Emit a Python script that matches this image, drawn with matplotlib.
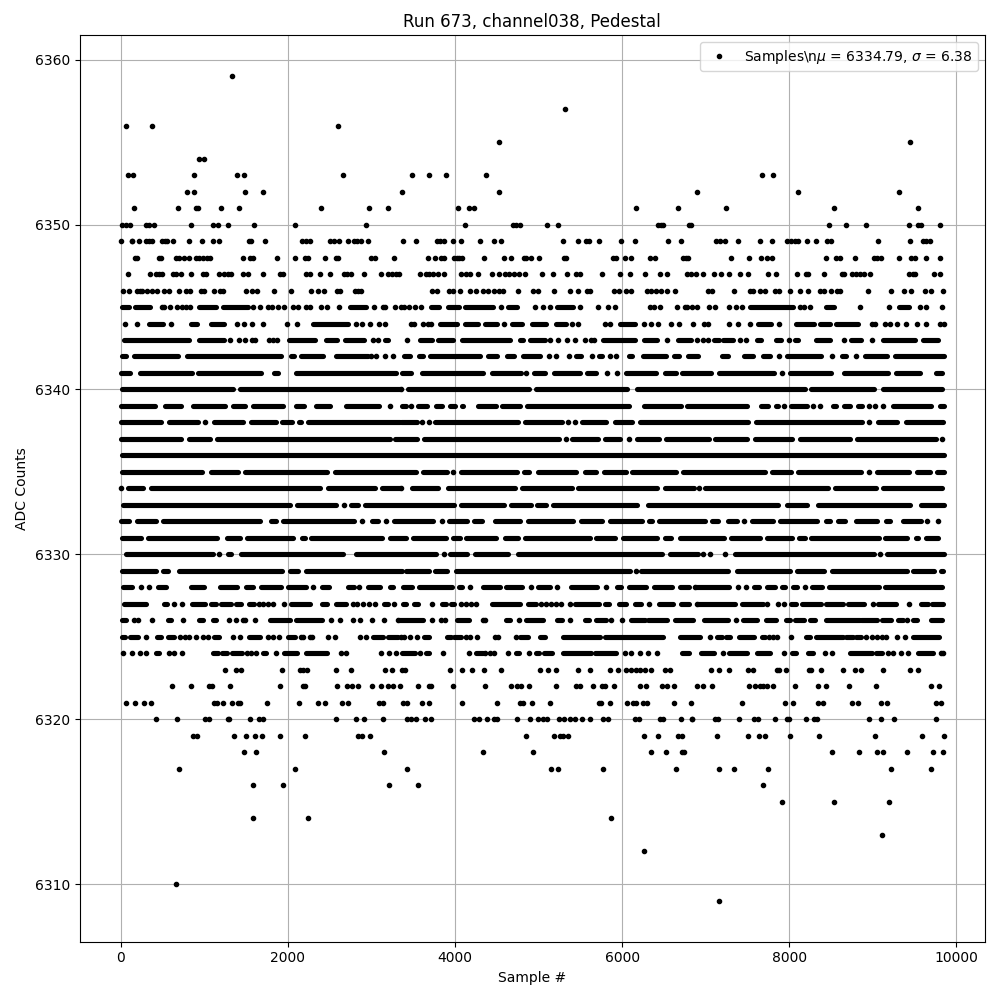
import matplotlib
matplotlib.use("Agg")
import matplotlib.pyplot as plt

## values, one list per ADC level
## a plain number is one sample, a (start, end) pair is a stretch of samples too dense to tell apart
row_6359 = [1328]
row_6357 = [5316]
row_6356 = [68, 380, 2600]
row_6355 = [4524, 9448]
row_6354 = [932, 992]
row_6353 = [92, 152, 872, 1388, 1472, 2660, 3492, 3684, 3888, 4368, 7672, 7804]
row_6352 = [788, 872, 1484, 1700, 3372, 4524, 6892, 8104, 9316]
row_6351 = [164, 692, 900, 924, 1196, 1412, 2396, 2972, 3200, 4032, 4164, 4224, 6168, 6672, 7240, 8536, 9544]
row_6350 = [20, 68, 116, 300, 340, 400, 836, 1100, 1160, 1280, 1592, 2084, 2936, 4116, 4692, 4732, 4776, 5100,
            5232, 6432, 6464, 6492, 6804, 6820, 8476, 8680, 8920, 9436, 9544, 9572, 9808]
row_6349 = [8, 130, 140, 224, 308, 340, 372, 500, 528, 560, 632, 812, 968, 1100, 1172, 1532, 1564, 1724, 2168, 2220,
            2268, 2508, 2548, 2612, 2720, 2788, 2828, 2880, 2960, 3384, 3528, 3780, 3820, 3872, 3972, 4068, 4296,
            4464, 4548, 5292, 5472, 5572, 5600, 5724, 5988, 6156, 6552, 6708, 7124, 7172, 7232, 7384, 7648, 7792,
            7972, 8024, 8064, 8104, 8212, 8320, 8452, 8504, 9064, 9448, 9604, 9636, 9688]
row_6348 = [172, 196, 460, 488, 668, 700, 756, 812, 900, 940, 988, 1028, 1068, 1460, 1552, 1588, 1868, 2084, 2200,
            2236, 2444, 2572, 2604, 2996, 3048, 3272, 3672, 3756, 3828, 3868, 3984, 4020, 4052, 4084, 4344, 4584,
            4668, 4824, 4852, 4908, 5004, 5300, 5324, 5892, 5932, 6036, 6108, 6332, 6392, 6732, 6760, 6792, 7300,
            7516, 7656, 7728, 7796, 8440, 8564, 8612, 8788, 9016, 9052, 9100, 9316, 9460, 9504, 9640, 9808]
row_6347 = [92, 356, 428, 460, 500, 628, 668, 720, 836, 980, 1020, 1172, 1232, 1280, 1320, 1460, 1520, 1700, 1904,
            1940, 2220, 2260, 2384, 2504, 2672, 2708, 2756, 2912, 3116, 3200, 3248, 3300, 3332, 3576, 3652, 3692,
            3732, 3792, 3864, 4072, 4132, 4180, 4276, 4440, 4524, 4596, 4652, 4712, 4764, 4844, 5040, 5172, 5340,
            5452, 5492, 5760, 5976, 6096, 6276, 6456, 6540, 6780, 6820, 6880, 6964, 7096, 7180, 7276, 7408, 7504,
            7744, 7840, 8092, 8204, 8228, 8416, 8632, 8660, 8756, 8804, 8848, 8896, 8968, 9436, 9476, 9504, 9736, 9808]
row_6346 = [32, 104, 200, 228, 260, 320, 380, 440, 524, 584, 704, 776, 828, 960, 1000, 1112, 1188, 1220, 1496, 1568,
            1628, 1832, 2036, 2276, 2360, 2432, 2588, 2628, 2804, 2840, 2872, 3720, 3780, 3924, 3972, 4056, 4176,
            4248, 4332, 4392, 4464, 4532, 4580, 4752, 4932, 4992, 5184, 5372, 5472, 5580, 5620, 5904, 5964, 6048,
            6104, 6300, 6348, 6404, 6468, 6540, 6636, 7024, 7076, 7336, 7536, 7564, 7648, 7708, 7828, 7876, 8004,
            8124, 8224, 8368, 8420, 8504, 8572, 8608, 8944, 9220, 9376, 9460, 9628, 9700, 9844]
row_6345 = [(20, 100), (172, 348), 500, 524, 596, 680, 732, 780, 828, (940, 1140), (1228, 1520), 1580, 1664, 1760, 1812,
            1880, 1960, 2060, 2124, 2220, 2260, 2392, 2468, 2612, (2748, 2940), 3028, 3140, 3160, 3284, 3352, 3392, 3452,
            3524, 3592, (3712, 3804), (3920, 4044), (4124, 4452), 4552, (4632, 4740), 4956, 5052, 5136, (5224, 5412), 5496,
            5712, 5832, 5916, 6332, 6380, 6456, 6652, 6752, 6780, 6836, 6892, 7036, 7108, 7276, 7364, 7432, (7532, 8044),
            8132, 8176, 8248, (8436, 8536), 8848, 9196, (9308, 9436), 9568, 9640, 9832]
row_6344 = [56, 200, (340, 508), 608, (840, 908), (1080, 1240), 1388, 1472, 1568, 1700, 1988, 2116, (2300, 2720), 2816, 2888,
            2988, 3092, 3160, 3472, 3512, 3612, 3672, 3712, (3820, 4020), (4124, 4272), (4364, 4500), 4584, (4680, 4804),
            (4924, 5092), (5212, 5332), 5404, 5472, 5800, 5856, (5976, 6156), 6264, 6340, 6424, 6580, 6684, 6852, 6984, 7024,
            7284, 7384, 7536, (7624, 7784), 7876, (8076, 8296), (8372, 8492), (8564, 8824), 8992, 9024, 9148, 9204, 9284,
            9400, 9532, 9640, 9808, 9850]
row_6343 = [(40, 820), (940, 1240), 1308, 1420, 1484, 1572, 1612, 1772, 1820, 1872, (2020, 2320), (2460, 2588), (2680, 2912),
            3020, 3080, (3160, 3204), 3428, (3580, 3720), (3792, 3972), (4084, 4660), (4780, 4820), (4900, 5072), 5132, 5232,
            5340, 5440, 5560, 5632, 5660, (5772, 6152), (6264, 6412), 6540, (6664, 6820), 6892, 6964, 7024, (7104, 7156),
            (7204, 7324), 7416, 7480, (7612, 7664), (7836, 7904), 7996, (8064, 8104), (8324, 8484), 8656, (8744, 8864), 8992,
            (9124, 9504), (9604, 9784)]
row_6342 = [(12, 68), (160, 688), (792, 1916), (2040, 2076), (2160, 2420), (2572, 2964), 3000, 3052, 3160, 3260, (3396, 3468),
            (3564, 3620), (3704, 4300), (4396, 4500), (4628, 4708), (4816, 5012), 5124, 5212, 5360, (5452, 5508), 5644,
            (5724, 5760), 5852, 5932, (6084, 6120), (6252, 6520), (6616, 6680), (6784, 6912), (7196, 7272), (7464, 7572),
            (7688, 7772), 7872, (7976, 8384), 8512, (8636, 8680), 8804, (8904, 9172), (9264, 9852)]
row_6341 = [(0, 116), (232, 848), (924, 1676), (1836, 1880), (2100, 3296), (3364, 3480), (3604, 4340), (4444, 4788), 4856,
            (4948, 5072), (5188, 5500), (5584, 5688), 5824, 5940, (6052, 6400), (6508, 6640), (6716, 7060), (7156, 7812), 7916,
            (8004, 8504), (8652, 9184), (9276, 9564), (9756, 9832)]
row_6340 = [(12, 1348), (1428, 3340), 3360, (3444, 4880), (4964, 6060), (6176, 8184), (8264, 9012), (9116, 9832)]
row_6339 = [(0, 416), (532, 728), (864, 1248), (1344, 1488), (1584, 1940), (2100, 2188), (2340, 2500), (2692, 3088), 3228,
            (3364, 3420), 3480, (3556, 3668), (3772, 3840), (3940, 4000), (4088, 4100), (4276, 4488), (4564, 4780),
            (4864, 6080), (6264, 6700), (6776, 7492), (7664, 7744), (7836, 7864), 7936, (8024, 8212), 8284, 8368, (8528, 8560),
            (8652, 8732), (8828, 8872), 8956, 9024, 9116, (9244, 9692), (9804, 9852)]
row_6338 = [(0, 488), (580, 920), 1008, (1116, 1460), (1560, 1856), (1936, 2048), (2132, 2156), (2244, 3340), (3352, 3540), 3604,
            3692, (3764, 4760), (4844, 5280), 5352, 5440, (5524, 5812), (5912, 6120), (6212, 7512), (7604, 8872), 8956,
            (9056, 9292), (9396, 9840)]
row_6337 = [(0, 728), (820, 1068), (1152, 3228), (3280, 3540), (3624, 5240), 5324, (5404, 5708), (5792, 5980), 6084,
            (6176, 6440), (6524, 7040), (7116, 7492), (7588, 8032), (8132, 8732), (8816, 9752), 9824]
row_6336 = [(20, 9852)]
row_6335 = [(12, 976), (1080, 1408), (1492, 2468), (2560, 3532), (3620, 3900), 3972, (4072, 4740), (4824, 4880), (4996, 5444),
            (5552, 5692), (5784, 6048), (6124, 6640), (6724, 7712), (7788, 8020), (8108, 8864), 8956, (9048, 9432),
            (9524, 9680), (9768, 9852)]
row_6334 = [0, (92, 268), (364, 2380), (2484, 3048), (3132, 3340), 3360, (3484, 3800), (3912, 4720), (4804, 5400), (5476, 6412),
            (6512, 6860), 6924, (6996, 8464), (8544, 9032), (9116, 9832)]
row_6333 = [(32, 2028), (2116, 2580), 2668, (2752, 2840), (2920, 3992), (4072, 4592), (4676, 4908), (4984, 5088), (5176, 6180),
            (6312, 7864), (7976, 8212), (8348, 9444), (9576, 9852)]
row_6332 = [(0, 96), (192, 420), (504, 1668), (1804, 1860), (1944, 2788), 2892, (3012, 3076), 3172, (3272, 3732), 3844,
            (3932, 4140), (4228, 4320), (4476, 4780), (4876, 5412), (5504, 5760), (5852, 6240), (6324, 6360), (6436, 6992),
            (7076, 7152), (7264, 7372), 7456, (7556, 7800), (7884, 8332), (8444, 8484), (8580, 8672), (8796, 9052),
            (9156, 9204), (9356, 9572), 9652, 9784]
row_6331 = [(12, 248), (332, 1148), (1272, 1428), (1512, 2068), (2164, 2208), (2280, 3128), (3224, 3412), (3496, 3888),
            (3976, 4060), (4136, 4488), (4604, 4760), (4836, 5612), (5684, 5920), (6016, 6420), (6512, 6588), (6692, 7220),
            (7308, 7652), (7728, 8032), (8116, 8184), (8264, 9072), (9144, 9412), (9516, 9540), (9636, 9784)]
row_6330 = [(60, 1108), 1172, (1284, 1316), (1440, 2660), (2812, 3772), 3864, (3944, 4140), (4236, 4640), (4756, 6480),
            (6572, 6904), 6972, 7052, 7232, (7348, 9012), 9084, (9164, 9852)]
row_6329 = [(12, 428), (512, 568), (700, 1928), (2032, 2120), (2212, 3364), (3412, 3692), (3764, 3908), (4012, 6100), 6164,
            (6232, 7264), (7376, 8012), (8096, 8412), (8516, 9404), (9476, 9732), (9816, 9844)]
row_6328 = [(24, 136), 248, 344, (444, 540), (844, 1000), (1192, 1396), (1504, 1588), (1684, 1916), (2004, 2220), 2300,
            (2404, 2496), (2720, 2788), 2852, (2956, 3108), (3220, 3260), (3376, 3488), (3572, 3960), (4052, 4084), 4184,
            (4336, 4540), (4616, 4800), 4908, (4996, 5140), 5224, (5392, 5700), 5804, (5944, 5988), (6084, 6280), (6376, 6600),
            (6692, 6800), 6868, (6884, 7280), 7392, 7480, (7584, 7632), (7736, 7824), (7908, 7944), (8048, 8092), 8184,
            (8268, 8392), (8480, 9072), (9144, 9832)]
row_6327 = [(40, 300), (520, 560), 640, 732, (852, 1004), (1080, 1140), (1200, 1320), (1380, 1440), (1540, 1600), 1652, 1700,
            1760, 1820, 1952, (2040, 2260), (2412, 2468), (2580, 2692), 2780, 2828, 2900, 2972, 3044, (3148, 3204), 3272,
            (3380, 3412), (3508, 3552), 3720, (3844, 3892), (3952, 3992), 4072, 4132, 4192, 4252, (4444, 4780), (4872, 4964),
            5032, 5092, 5152, 5212, 5268, 5372, (5432, 5724), (5792, 5844), (5964, 6044), (6152, 6232), 6324, (6440, 6604),
            (6708, 6804), 6892, (6904, 7356), (7436, 7684), 7732, 7860, 7936, (8024, 8076), (8156, 8384), (8444, 8644),
            (8704, 8892), 9004, (9064, 9276), 9436, (9572, 9664), (9712, 9844)]
row_6326 = [(20, 60), 156, 212, 380, (568, 600), 752, (940, 980), (1100, 1140), 1300, 1380, 1460, 1492, 1604, (1788, 2028),
            (2100, 2412), 2520, 2628, 2780, 2860, 3008, 3152, 3320, (3332, 3612), 3720, 3832, 3880, (4020, 4164), 4332, 4364,
            (4612, 4660), 4772, (4852, 5052), (5220, 5284), 5376, (5552, 5604), (5692, 5812), 5868, 6004, (6112, 6272),
            (6312, 6532), (6632, 6852), (6984, 7264), 7364, (7444, 7612), (7724, 7844), (7956, 8004), (8064, 8172), (8252, 8304),
            (8444, 8844), (8864, 9052), (9104, 9212), (9304, 9356), 9404, (9484, 9532), (9696, 9824)]
row_6325 = [(20, 52), (108, 212), 308, (440, 480), (572, 640), 712, 764, 812, 900, 980, 1040, (1120, 1180), 1340, 1424,
            (1540, 1668), 1760, 1820, 1892, (2000, 2092), 2152, 2180, 2268, 2292, 2480, 2560, 2868, 2936, (3020, 3140),
            (3200, 3320), 3352, 3392, 3460, 3544, (3632, 3684), (3900, 3952), (3992, 4072), 4132, 4184, 4260, 4484, 4516, 4732,
            (4780, 4872), (5020, 5080), (5292, 5732), (5792, 6492), (6692, 6932), 7048, (7132, 7196), (7244, 7296), (7404, 7584),
            (7672, 7704), 7756, 7804, 7856, 8024, (8196, 8252), (8316, 8644), (8684, 8764), (8804, 8864), 8924, 8984, 9044, 9104,
            9152, 9292, 9388, (9484, 9796)]
row_6324 = [32, 140, 236, 308, (420, 460), 580, 644, 736, (1108, 1160), (1212, 1268), (1332, 1452), 1508, 1564, 1620, (1700, 1740),
            1856, (1952, 2108), (2220, 2468), 2640, 2700, 3116, 3212, 3292, (3364, 3524), 3580, (3652, 3692), 3852, 4164,
            (4252, 4340), 4364, 4420, 4472, 4632, (4732, 4772), 4880, (4964, 5004), (5060, 5164), (5292, 5632), (5672, 5932), 6032,
            6112, 6212, 6312, 6412, (6712, 6804), (6944, 7104), 7204, (7284, 7492), (7612, 7772), 7932, (8036, 8084), (8224, 8284),
            8424, 8512, (8724, 8984), (9036, 9104), 9184, 9244, 9332, 9424, (9540, 9724), 9812, 9844]
row_6323 = [1244, 1380, 1440, 1928, 2148, 2180, 2228, 2576, 2756, 3164, 3252, 3372, 3404, 3936, 4080, 4200, 4344, 4552, 5016, 5108,
            5208, 5472, 5620, 5852, 5952, 6048, 6112, 6164, 6220, 6272, 6340, 6516, 6576, 7064, 7156, 7276, 7504, 7564, 7852,
            7876, 7964, 8236, 8264, 8380, 8648, 8788, 8860, 9124, 9448, 9544]
row_6322 = [616, 836, 1052, 1092, 1304, 1904, 2180, 2208, 2588, 2708, 2772, 2840, 3012, 3116, 3200, 3260, 3344, 3552, 3684, 3712, 3972,
            4356, 4668, 4740, 4792, 4884, 5208, 5452, 5500, 5652, 5756, 5792, 5904, 6212, 6284, 6480, 6532, 6624, 6900, 6964, 7072,
            7516, 7588, 7644, 7684, 7732, 7804, 8068, 8344, 8440, 8716, 9040, 9700, 9796]
row_6321 = [68, 168, 284, 368, 1120, 1152, 1220, 1328, 1408, 1432, 1748, 2132, 2360, 2444, 2648, 2720, 3092, 3140, 3380, 3432, 3600,
            3684, 4080, 4500, 4780, 4812, 4920, 5136, 5720, 5752, 5856, 6060, 6132, 6164, 6244, 6300, 6624, 6828, 7432, 7948,
            8044, 8348, 8408, 8752, 8824, 9100, 9172, 9760, 9820]
row_6320 = [428, 680, 1012, 1052, 1280, 1300, 1544, 1660, 1700, 2576, 2816, 2912, 3140, 3432, 3480, 3532, 3636, 3708, 4224, 4284, 4380,
            4464, 4504, 4740, 4892, 4992, 5052, 5100, 5244, 5304, 5380, 5432, 5520, 5616, 5772, 5836, 6152, 6204, 6452, 6492, 6708,
            6840, 6832, 7116, 7144, 7396, 7576, 7624, 7828, 7972, 7992, 8200, 8292, 8332, 8956, 9100, 9256, 9760]
row_6319 = [860, 912, 1352, 1496, 1604, 1688, 1904, 2204, 2840, 2888, 2984, 4848, 5184, 5252, 5292, 5352, 6264, 6432, 6672, 6712,
            7132, 7504, 7636, 7708, 8008, 8356, 9028, 9592, 9856]
row_6318 = [1472, 1616, 3152, 4332, 4932, 6348, 6528, 6712, 6744, 8512, 8836, 9052, 9124, 9412, 9724, 9844]
row_6317 = [704, 2084, 3432, 5148, 5232, 5772, 6648, 7156, 7336, 7744, 9220, 9700]
row_6316 = [1580, 1940, 3212, 3552, 7684]
row_6315 = [7912, 8536, 9196]
row_6314 = [1580, 2240, 5868]
row_6313 = [9112]
row_6312 = [6264]
row_6310 = [668]
row_6309 = [7156]

levels = [6359, 6357, 6356, 6355, 6354, 6353, 6352, 6351, 6350, 6349, 6348, 6347, 6346, 6345, 6344, 6343, 6342, 6341, 6340,
          6339, 6338, 6337, 6336, 6335, 6334, 6333, 6332, 6331, 6330, 6329, 6328, 6327, 6326, 6325, 6324, 6323, 6322, 6321,
          6320, 6319, 6318, 6317, 6316, 6315, 6314, 6313, 6312, 6310, 6309]
rows = [row_6359, row_6357, row_6356, row_6355, row_6354, row_6353, row_6352, row_6351, row_6350, row_6349, row_6348, row_6347,
        row_6346, row_6345, row_6344, row_6343, row_6342, row_6341, row_6340, row_6339, row_6338, row_6337, row_6336, row_6335,
        row_6334, row_6333, row_6332, row_6331, row_6330, row_6329, row_6328, row_6327, row_6326, row_6325, row_6324, row_6323,
        row_6322, row_6321, row_6320, row_6319, row_6318, row_6317, row_6316, row_6315, row_6314, row_6313, row_6312, row_6310,
        row_6309]

point_x, point_y = [], []
run_y, run_start, run_end = [], [], []
for level, row in zip(levels, rows):
    for item in row:
        if isinstance(item, tuple):
            run_y.append(level)
            run_start.append(item[0])
            run_end.append(item[1])
        else:
            point_x.append(item)
            point_y.append(level)

fig, ax = plt.subplots(figsize=(10, 10), dpi=100)
ax.plot(point_x, point_y, '.', color='black', label='Samples\\n$\\mu$ = 6334.79, $\\sigma$ = 6.38')
## a bit under the dot width, the dense rows in the reference look thinner than single dots
ax.hlines(run_y, run_start, run_end, color='black', linewidth=3.7, capstyle='round')
ax.set_xlim(-492, 10342)
ax.set_xlabel('Sample #')
ax.set_ylabel('ADC Counts')
ax.set_title('Run 673, channel038, Pedestal')
ax.legend(loc='upper right')
ax.grid(True)
fig.tight_layout()
fig.subplots_adjust(top=0.965)
fig.savefig('out.png')
